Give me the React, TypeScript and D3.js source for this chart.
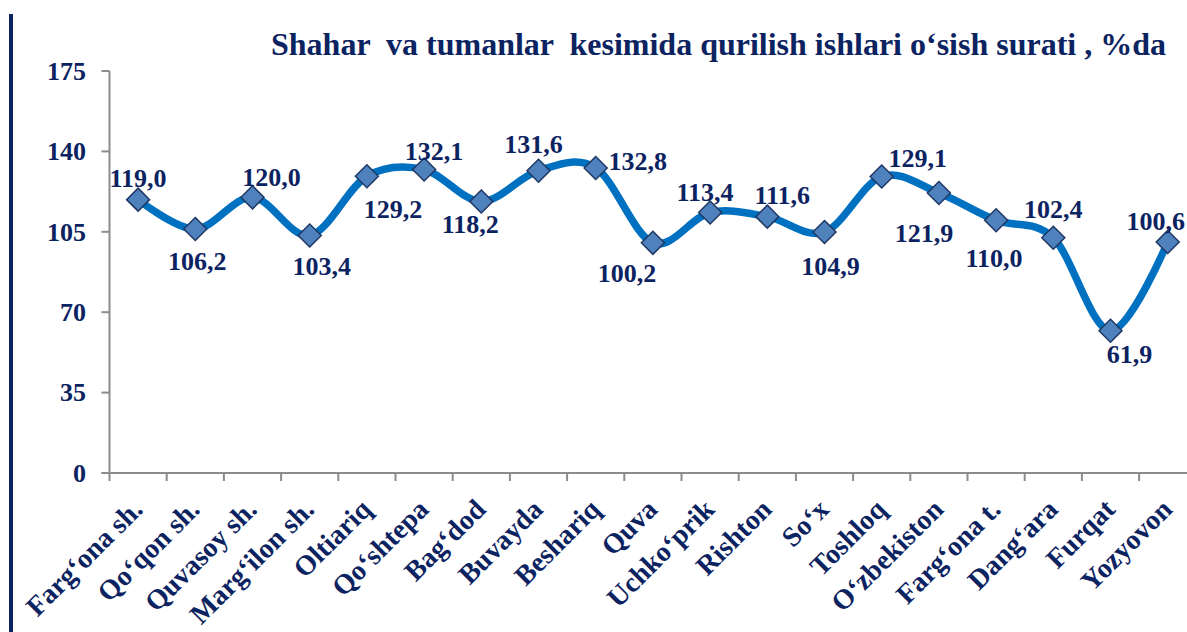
import React from "react";
import * as d3 from "d3";

// chart data
const categories = [
  "Farg‘ona sh.",
  "Qo‘qon sh.",
  "Quvasoy sh.",
  "Marg‘ilon sh.",
  "Oltiariq",
  "Qo‘shtepa",
  "Bag‘dod",
  "Buvayda",
  "Beshariq",
  "Quva",
  "Uchko‘prik",
  "Rishton",
  "So‘x",
  "Toshloq",
  "O‘zbekiston",
  "Farg‘ona t.",
  "Dang‘ara",
  "Furqat",
  "Yozyovon",
];
const values = [
  119.0, 106.2, 120.0, 103.4, 129.2, 132.1, 118.2, 131.6, 132.8, 100.2, 113.4,
  111.6, 104.9, 129.1, 121.9, 110.0, 102.4, 61.9, 100.6,
];
const yTicks = [0, 35, 70, 105, 140, 175];
const title = "Shahar  va tumanlar  kesimida qurilish ishlari o‘sish surati , %da";

// label placement relative to the marker (dx, dy to baseline)
const labelOffsets: [number, number][] = [
  [0, -13], [2, 41], [19, -11], [12, 40], [26, 42], [10, -10], [-11, 32],
  [-5, -18], [42, 2], [-26, 39], [-5, -12], [15, -13], [6, 43], [36, -9],
  [-15, 49], [-2, 47], [0, -20], [19, 32], [-12, -12],
];

const W = 1187;
const H = 632;
const NAVY = "#0c2361";
const FONT = "'Liberation Serif', 'Times New Roman', serif";

export default function App() {
  const left = 109.5;
  const band = 57.2;
  const x = d3
    .scaleBand<string>()
    .domain(categories)
    .range([left, left + band * categories.length])
    .padding(0);
  const y = d3.scaleLinear().domain([0, 175]).range([473, 71]);

  const cx = (c: string) => (x(c) as number) + x.bandwidth() / 2;
  const pts: [number, number][] = values.map((v, i) => [cx(categories[i]), y(v)]);

  const line = d3
    .line<[number, number]>()
    .x((d) => d[0])
    .y((d) => d[1])
    .curve(d3.curveCardinal.tension(0));

  const fmt = (v: number) => d3.format(".1f")(v).replace(".", ",");
  const diamond = (r: number) => `M0,${-r}L${r},0L0,${r}L${-r},0Z`;
  const tickPositions = d3.range(categories.length + 1).map((i) => left + i * band);

  return (
    <div style={{ position: "absolute", left: 0, top: 0 }}>
      <svg width={W} height={H} style={{ display: "block", background: "#fff" }} fontFamily={FONT}>
        <rect x={9} y={14} width={4} height={H - 14} fill={NAVY} />

        <text
          x={271}
          y={55}
          fill={NAVY}
          fontSize={32}
          fontWeight="bold"
          style={{ whiteSpace: "pre" }}
        >
          {title}
        </text>

        {/* y axis */}
        <line x1={left} x2={left} y1={y(175)} y2={y(0)} stroke="#8c8c8c" strokeWidth={2} />
        {yTicks.map((t) => (
          <g key={t}>
            <line x1={left - 8} x2={left} y1={y(t)} y2={y(t)} stroke="#8c8c8c" strokeWidth={2} />
            <text
              x={86}
              y={y(t)}
              dy="0.34em"
              textAnchor="end"
              fill={NAVY}
              fontSize={26}
              fontWeight="bold"
            >
              {t}
            </text>
          </g>
        ))}

        {/* x axis */}
        <line x1={left - 8} x2={W} y1={y(0)} y2={y(0)} stroke="#8c8c8c" strokeWidth={2} />
        {tickPositions.map((p, i) => (
          <line key={i} x1={p} x2={p} y1={y(0)} y2={y(0) + 8} stroke="#8c8c8c" strokeWidth={2} />
        ))}
        {categories.map((c) => (
          <text
            key={c}
            transform={`translate(${cx(c) + 6},${y(0) + 38}) rotate(-45)`}
            textAnchor="end"
            fill={NAVY}
            fontSize={28}
            fontWeight="bold"
          >
            {c}
          </text>
        ))}

        {/* series */}
        <path d={line(pts) ?? ""} fill="none" stroke="#0070c0" strokeWidth={7.5} strokeLinejoin="round" />
        {pts.map((p, i) => (
          <path
            key={i}
            d={diamond(11.5)}
            transform={`translate(${p[0]},${p[1]})`}
            fill="#4f81bd"
            stroke="#1f3864"
            strokeWidth={1.5}
          />
        ))}
        {pts.map((p, i) => (
          <text
            key={i}
            x={p[0] + labelOffsets[i][0]}
            y={p[1] + labelOffsets[i][1]}
            textAnchor="middle"
            fill={NAVY}
            fontSize={26}
            fontWeight="bold"
          >
            {fmt(values[i])}
          </text>
        ))}
      </svg>
    </div>
  );
}
